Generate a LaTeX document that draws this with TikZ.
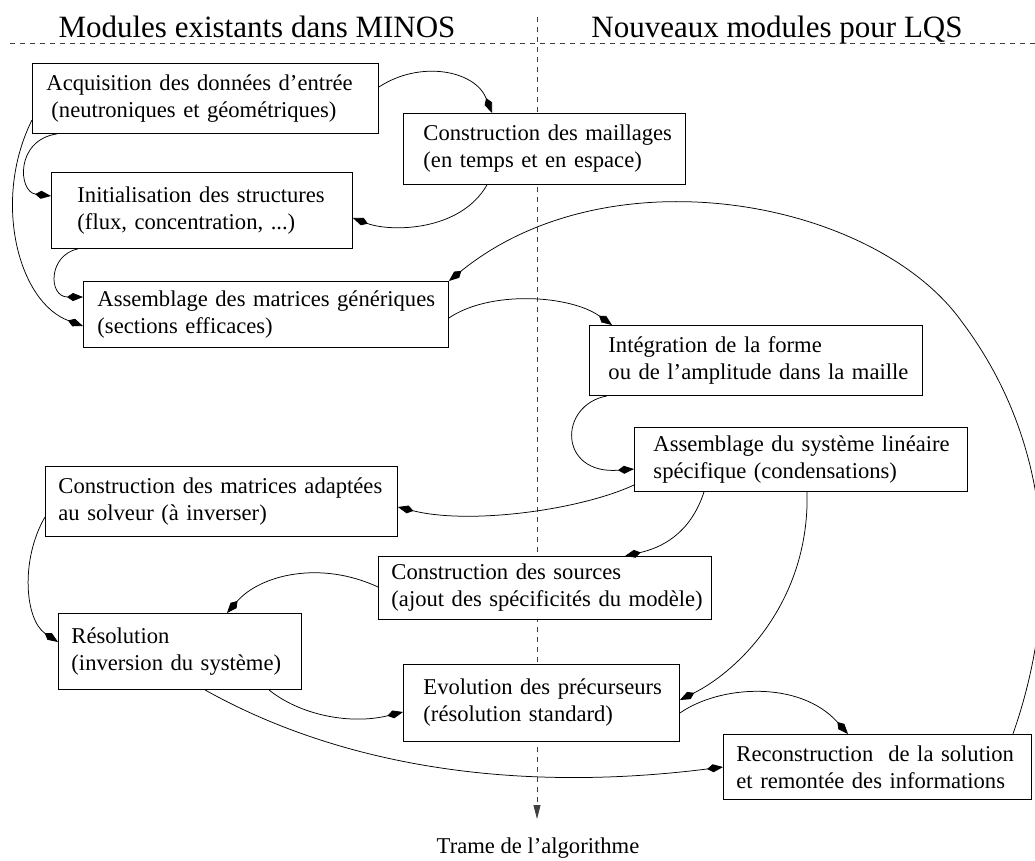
\documentclass[tikz,border=0pt]{standalone}
\usepackage{fontspec}
\setmainfont{Liberation Serif}
\usetikzlibrary{arrows.meta,calc}
\begin{document}
\begin{tikzpicture}[x=1pt,y=-1pt,
  box/.style={draw, line width=0.9pt, fill=white, anchor=north west, inner ysep=0pt,
    align=left, font=\fontsize{22.6}{27}\selectfont},
  conn/.style={line width=0.75pt, -{Kite[length=16pt,width=8pt,inset=6pt]}},
  sep/.style={line width=0.8pt, black!75, dash pattern=on 5pt off 5pt},
  head/.style={anchor=base, font=\fontsize{31}{36}\selectfont, inner sep=0pt},
  lbl/.style={anchor=base, font=\fontsize{22.6}{27}\selectfont, inner sep=0pt}]
\useasboundingbox (0,0) rectangle (1035,860);
\clip (0,0) rectangle (1035,860);

% headers and separators
\node[head] (hl) at (257,37) {Modules existants dans MINOS};
\node[head] (hr) at (777,37) {Nouveaux modules pour LQS};
\coordinate (hs) at (10,43);
\coordinate (he) at (1035,43);
\draw[sep] (hs) -- (he);
\coordinate (vs) at (537,17);
\coordinate (ve) at (537,819);
\draw[sep, -{Triangle[length=14pt,width=7pt]}] (vs) -- (ve);
\node[lbl] (trame) at (538,853) {Trame de l’algorithme};

% boxes
\node[box, minimum width=346pt, minimum height=70pt, text width=318pt, inner xsep=14pt] (b1) at (32,63)
  {\mbox{Acquisition des données d’entrée}\\\mbox{\hspace{5pt}(neutroniques et géométriques)}};
\node[box, minimum width=282pt, minimum height=71pt, text width=242pt, inner xsep=20pt] (b2) at (403,113)
  {\mbox{Construction des maillages}\\\mbox{(en temps et en espace)}};
\node[box, minimum width=301pt, minimum height=76pt, text width=249pt, inner xsep=26pt] (b3) at (51,172)
  {\mbox{Initialisation des structures}\\\mbox{(flux, concentration, ...)}};
\node[box, minimum width=365pt, minimum height=66pt, text width=337pt, inner xsep=14pt] (b4) at (83,281)
  {\mbox{Assemblage des matrices génériques}\\\mbox{(sections efficaces)}};
\node[box, minimum width=333pt, minimum height=70pt, text width=295pt, inner xsep=19pt] (b5) at (589,325)
  {\mbox{Intégration de la forme}\\\mbox{ou de l’amplitude dans la maille}};
\node[box, minimum width=333pt, minimum height=64pt, text width=295pt, inner xsep=19pt] (b6) at (634,427)
  {\mbox{Assemblage du système linéaire}\\\mbox{spécifique (condensations)}};
\node[box, minimum width=352pt, minimum height=70pt, text width=326pt, inner xsep=13pt] (b7) at (45,466)
  {\mbox{Construction des matrices adaptées}\\\mbox{au solveur (à inverser)}};
\node[box, minimum width=333pt, minimum height=63pt, text width=307pt, inner xsep=13pt] (b8) at (378,556)
  {\mbox{Construction des sources}\\\mbox{(ajout des spécificités du modèle)}};
\node[box, minimum width=243pt, minimum height=76pt, text width=217pt, inner xsep=13pt] (b9) at (58,613)
  {\mbox{Résolution}\\\mbox{(inversion du système)}};
\node[box, minimum width=276pt, minimum height=77pt, text width=236pt, inner xsep=20pt] (b10) at (403,664)
  {\mbox{Evolution des précurseurs}\\\mbox{(résolution standard)}};
\node[box, minimum width=308pt, minimum height=65pt, text width=282pt, inner xsep=13pt] (b11) at (723,734)
  {\mbox{Reconstruction\ \ de la solution}\\\mbox{et remontée des informations}};

% connectors
\draw[conn] ($(b1.north east)+(0,24)$) .. controls (420,60) and (475,70) .. ($(b2.north west)+(89,0)$);
\draw[conn] ($(b2.south west)+(84,0)$) .. controls (460,232) and (390,232) .. ($(b3.north east)+(0,46)$);
\draw[conn] ($(b1.south west)+(25,0)$) .. controls (15,140) and (18,192) .. ($(b3.north west)+(0,24)$);
\draw[conn] ($(b1.north west)+(0,57)$) .. controls (-8,200) and (18,302) .. ($(b4.north west)+(0,45)$);
\draw[conn] ($(b3.south west)+(27,0)$) .. controls (48,255) and (48,297) .. ($(b4.north west)+(0,16)$);
\coordinate (m6) at (962,322);
\draw[conn] ($(b11.north east)+(-19,0)$) .. controls (1055,615) and (1062,455) .. (m6)
  .. controls (875,200) and (610,150) .. (b4.north east);
\draw[conn] ($(b4.north east)+(0,37)$) .. controls (490,290) and (570,295) .. ($(b5.north west)+(23,0)$);
\draw[conn] ($(b5.south west)+(18,0)$) .. controls (558,405) and (558,475) .. ($(b6.north west)+(0,42)$);
\draw[conn] ($(b6.north west)+(0,58)$) .. controls (580,510) and (470,525) .. ($(b7.north east)+(0,41)$);
\draw[conn] ($(b6.south west)+(70,0)$) .. controls (690,535) and (660,548) .. ($(b8.north west)+(247,0)$);
\draw[conn] ($(b6.south west)+(173,0)$) .. controls (810,600) and (740,670) .. ($(b10.north east)+(0,36)$);
\draw[conn] ($(b7.north west)+(0,51)$) .. controls (20,560) and (25,620) .. ($(b9.north west)+(0,29)$);
\draw[conn] ($(b8.north west)+(0,31)$) .. controls (320,560) and (260,575) .. ($(b9.north west)+(169,0)$);
\draw[conn] ($(b9.south west)+(211,0)$) .. controls (300,715) and (350,725) .. ($(b10.north west)+(0,48)$);
\draw[conn] ($(b9.south west)+(147,0)$) .. controls (330,760) and (500,795) .. ($(b11.north west)+(0,33)$);
\draw[conn] ($(b10.north east)+(0,49)$) .. controls (720,685) and (800,680) .. ($(b11.north west)+(125,0)$);
\end{tikzpicture}
\end{document}
